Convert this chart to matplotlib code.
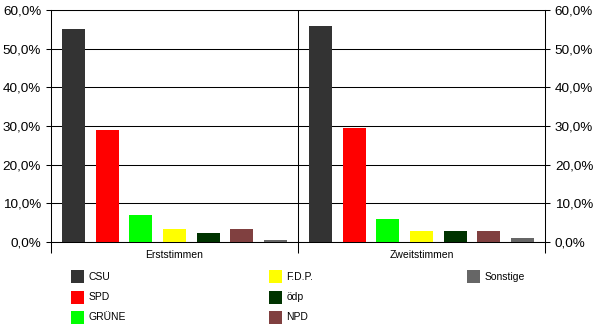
import matplotlib
matplotlib.use("Agg")
import matplotlib.pyplot as plt
from matplotlib.patches import Rectangle
from matplotlib.ticker import FuncFormatter, FixedLocator

parties = ["CSU", "SPD", "GRÜNE", "F.D.P.", "ödp", "NPD", "Sonstige"]
colors = ["#333333", "#ff0000", "#00ff00", "#ffff00", "#003300", "#804040", "#666666"]
groups = ["Erststimmen", "Zweitstimmen"]
erststimmen = [55.1, 28.9, 6.8, 3.2, 2.2, 3.2, 0.5]
zweitstimmen = [55.8, 29.5, 5.8, 2.9, 2.7, 2.7, 0.9]
values = [erststimmen, zweitstimmen]

plt.rcParams['font.family'] = ['Liberation Sans', 'DejaVu Sans']

W, H = 600, 333
fig = plt.figure(figsize=(W / 100, H / 100), dpi=100)
fig.patch.set_facecolor("white")

ax = fig.add_axes([51 / W, (H - 241.7) / H, 494 / W, (241.7 - 10.3) / H])

pitch = 0.1364
width = 0.094
n = len(parties)
for g, vals in enumerate(values):
    for i, v in enumerate(vals):
        x = g + 0.5 + (i - (n - 1) / 2) * pitch
        ax.bar(x, v, width=width, color=colors[i], zorder=3, linewidth=0)

ax.set_xlim(0, len(groups))
ax.set_ylim(0, 60)
ax.set_yticks(range(0, 61, 10))
ax.yaxis.set_major_formatter(FuncFormatter(lambda v, p: f"{v:.1f}".replace(".", ",") + "%"))
ax.grid(axis="y", color="black", linewidth=0.75, zorder=1)
ax.set_axisbelow(True)

# group separators / category labels
ax.xaxis.set_major_locator(FixedLocator(list(range(len(groups) + 1))))
ax.xaxis.set_minor_locator(FixedLocator([g + 0.5 for g in range(len(groups))]))
ax.set_xticklabels([""] * (len(groups) + 1))
ax.set_xticklabels(groups, minor=True)
ax.tick_params(axis="x", which="major", direction="out", length=8, width=0.75, color="black")
ax.tick_params(axis="x", which="minor", length=0, pad=6, labelsize=7.5)
ax.axvline(1, color="black", linewidth=0.75, zorder=2)

ax.tick_params(axis="y", which="major", left=True, right=True, labelleft=True, labelright=True,
               direction="out", length=3.6, width=0.75, labelsize=9.7, color="black", pad=3.5)

for s in ax.spines.values():
    s.set_color("black")
    s.set_linewidth(0.75)

# legend (manual, three columns)
col_x = [71, 269, 467]
row_y = [276.5, 297.3, 317.5]
msize_w, msize_h = 13, 12.7
for i, (p, c) in enumerate(zip(parties, colors)):
    col, row = divmod(i, 3)
    x0 = col_x[col]
    yc = row_y[row]
    fig.add_artist(Rectangle((x0 / W, (H - yc - msize_h / 2) / H), msize_w / W, msize_h / H,
                             transform=fig.transFigure, facecolor=c, edgecolor="none"))
    fig.text((x0 + 17.5) / W, (H - yc) / H, p, fontsize=7.5, va="center", ha="left")

fig.savefig("out.png", dpi=100, facecolor="white")
